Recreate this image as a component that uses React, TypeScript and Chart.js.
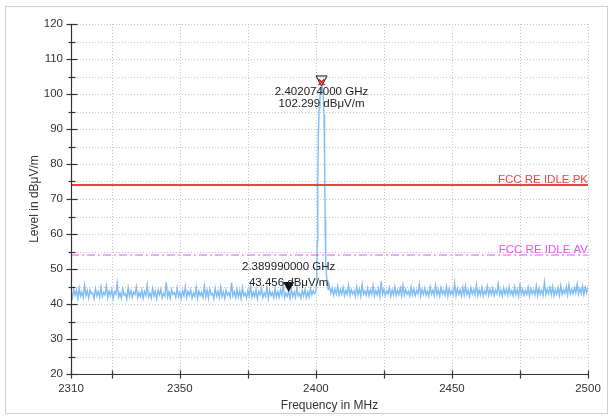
import React, { useEffect, useRef } from "react";
import { Chart, registerables } from "chart.js";

Chart.register(...registerables);

// ---- Data ----
const X_MIN = 2310;
const X_MAX = 2500;
const Y_MIN = 20;
const Y_MAX = 120;
const X_TICKS = [2310, 2325, 2350, 2375, 2400, 2425, 2450, 2475, 2500];
const X_LABELS = [2310, 2350, 2400, 2450, 2500];
const Y_STEP = 5;

const LIMIT_PK = 74;
const LIMIT_AV = 54;
const LIMIT_PK_LABEL = "FCC RE IDLE PK";
const LIMIT_AV_LABEL = "FCC RE IDLE AV";

// baseline trace left of the carrier: 2310.0 .. 2399.5 MHz, 0.5 MHz bins
const LEFT_START = 2310;
const BIN = 0.5;
const LEFT_LEVELS = [
  43.2, 41.8, 44.1, 42.5, 43.9, 41.6, 44.6, 42.2, 43.4, 41.9,
  45.3, 42.4, 43.8, 41.7, 44.0, 42.9, 43.1, 41.5, 44.4, 42.3,
  43.6, 41.9, 44.8, 42.1, 43.3, 42.6, 45.1, 41.8, 43.7, 42.4,
  44.2, 41.6, 43.5, 42.8, 46.0, 42.0, 43.2, 41.7, 44.3, 42.5,
  43.0, 41.4, 44.7, 42.2, 43.8, 41.9, 43.4, 42.7, 44.9, 41.8,
  43.3, 42.1, 44.0, 41.6, 43.6, 42.4, 45.4, 42.0, 43.1, 41.7,
  44.5, 42.3, 43.7, 41.5, 43.9, 42.6, 44.2, 41.8, 43.0, 42.2,
  46.3, 42.0, 43.5, 41.6, 44.1, 42.7, 43.2, 41.9, 44.6, 42.1,
  43.4, 41.5, 43.8, 42.3, 45.0, 41.8, 43.6, 42.5, 44.0, 41.7,
  43.1, 42.2, 44.8, 41.6, 43.7, 42.4, 43.3, 41.9, 45.2, 42.0,
  43.9, 41.7, 44.3, 42.6, 43.0, 41.5, 44.5, 42.2, 43.6, 41.8,
  44.9, 42.1, 43.4, 41.6, 44.0, 42.5, 43.2, 41.9, 46.1, 42.3,
  43.5, 41.8, 44.2, 42.0, 43.7, 41.6, 44.7, 42.4, 43.1, 41.7,
  43.8, 42.3, 45.3, 41.9, 43.4, 42.1, 44.1, 41.5, 43.6, 42.6,
  44.4, 41.8, 43.2, 42.2, 45.0, 41.6, 43.9, 42.4, 43.3, 41.7,
  44.6, 42.0, 43.5, 41.9, 44.0, 42.5, 45.6, 41.8, 43.1, 42.2,
  43.7, 41.6, 44.3, 42.1, 43.4, 41.9, 44.8, 42.3, 43.0, 41.7,
  43.9, 42.4, 44.2, 41.8, 43.5, 42.0, 44.5, 42.6, 43.8, 42.9,
];

// carrier
const PEAK_FREQS = [
  2400.0, 2400.3, 2400.5, 2400.7, 2400.9, 2401.2, 2401.5, 2401.8, 2402.07,
  2402.4, 2402.7, 2403.0, 2403.2, 2403.4, 2403.6, 2403.9, 2404.2, 2404.5, 2404.8,
];
const PEAK_LEVELS = [
  43.5, 46.5, 58, 75, 88, 96, 100, 101.8, 102.3,
  101.6, 99.5, 94, 82, 64, 52, 48, 46.5, 44.2, 45.6,
];

// baseline trace right of the carrier: 2405.0 .. 2500.0 MHz, 0.5 MHz bins
const RIGHT_START = 2405;
const RIGHT_LEVELS = [
  45.0, 43.1, 44.6, 42.5, 44.2, 42.9, 45.1, 42.6, 44.0, 42.8,
  44.7, 42.4, 43.9, 42.7, 45.3, 42.5, 44.1, 42.9, 43.8, 42.3,
  44.9, 42.6, 44.3, 42.2, 45.6, 42.8, 43.7, 42.5, 44.5, 42.4,
  44.0, 42.7, 45.2, 42.3, 43.9, 42.6, 44.4, 42.1, 46.4, 42.8,
  44.2, 42.5, 43.8, 42.9, 44.7, 42.2, 44.0, 42.6, 45.0, 42.4,
  43.9, 42.7, 44.6, 42.3, 45.4, 42.5, 44.1, 42.8, 43.7, 42.2,
  44.8, 42.6, 44.3, 42.4, 43.9, 42.9, 45.7, 42.3, 44.2, 42.7,
  44.5, 42.5, 43.8, 42.2, 44.9, 42.8, 44.0, 42.4, 45.3, 42.6,
  44.1, 42.3, 44.7, 42.9, 43.9, 42.5, 45.0, 42.2, 44.4, 42.7,
  43.8, 42.6, 46.0, 42.4, 44.3, 42.8, 44.0, 42.3, 44.8, 42.5,
  45.2, 42.7, 43.9, 42.2, 44.6, 42.9, 44.1, 42.5, 45.5, 42.4,
  44.0, 42.6, 44.7, 42.3, 43.8, 42.8, 45.1, 42.5, 44.2, 42.7,
  44.5, 42.4, 43.9, 42.9, 45.8, 42.6, 44.0, 42.3, 44.6, 42.8,
  44.3, 42.5, 45.0, 42.7, 43.8, 42.4, 44.9, 42.6, 44.1, 42.2,
  45.4, 42.8, 44.2, 42.5, 43.9, 42.7, 44.7, 42.3, 44.4, 42.9,
  44.0, 42.6, 45.2, 42.4, 44.5, 42.8, 43.9, 42.5, 46.2, 42.7,
  44.3, 42.9, 44.8, 42.6, 45.0, 42.4, 44.1, 42.8, 44.6, 42.5,
  45.3, 42.7, 44.0, 43.0, 44.9, 42.6, 45.5, 42.8, 44.2, 42.9,
  44.7, 43.1, 45.6, 42.8, 44.4, 43.0, 45.1, 42.7, 44.8, 43.2, 45.0,
];

// markers
const M1_FREQ = 2402.074;
const M1_LEVEL = 102.299;
const M1_TEXT = ["2.402074000 GHz", "102.299 dBμV/m"];
const M2_FREQ = 2389.99;
const M2_LEVEL = 43.456;
const M2_TEXT = ["2.389990000 GHz", "43.456 dBμV/m"];

const X_TITLE = "Frequency in MHz";
const Y_TITLE = "Level in dBμV/m";

// ---- Styling ----
const FONT = "'Liberation Sans', Arial, sans-serif";
const TRACE_COLOR = "rgb(128,188,245)";
const PK_COLOR = "rgb(236,68,68)";
const AV_COLOR = "rgb(240,80,240)";
const AXIS_COLOR = "#333";
const GRID_COLOR = "#c4c4c4";
const TEXT_COLOR = "#333";

function buildTrace() {
  const pts: { x: number; y: number }[] = [];
  LEFT_LEVELS.forEach((v, i) => pts.push({ x: LEFT_START + i * BIN, y: v }));
  PEAK_FREQS.forEach((f, i) => pts.push({ x: f, y: PEAK_LEVELS[i] }));
  RIGHT_LEVELS.forEach((v, i) => pts.push({ x: RIGHT_START + i * BIN, y: v }));
  return pts;
}

const decor = {
  id: "decor",
  beforeDraw(chart: any) {
    const ctx = chart.ctx;
    ctx.save();
    ctx.fillStyle = "#fff";
    ctx.fillRect(0, 0, chart.width, chart.height);
    ctx.strokeStyle = "#cfcfcf";
    ctx.lineWidth = 1;
    ctx.strokeRect(5.5, 6.5, 602, 407);
    ctx.restore();
  },
  beforeDatasetsDraw(chart: any) {
    const ctx = chart.ctx;
    const { left, right, top, bottom } = chart.chartArea;
    const xs = chart.scales.x;
    const ys = chart.scales.y;
    ctx.save();
    ctx.strokeStyle = GRID_COLOR;
    ctx.lineWidth = 1;
    ctx.setLineDash([1, 2]);
    X_TICKS.forEach((v) => {
      if (v === X_MIN) return;
      const px = Math.round(xs.getPixelForValue(v)) + 0.5;
      ctx.beginPath();
      ctx.moveTo(px, top);
      ctx.lineTo(px, bottom);
      ctx.stroke();
    });
    for (let v = Y_MIN + Y_STEP; v <= Y_MAX; v += Y_STEP) {
      const py = Math.round(ys.getPixelForValue(v)) + 0.5;
      ctx.beginPath();
      ctx.moveTo(left, py);
      ctx.lineTo(right, py);
      ctx.stroke();
    }
    ctx.restore();
  },
  afterDatasetsDraw(chart: any) {
    const ctx = chart.ctx;
    const { left, right, top, bottom } = chart.chartArea;
    const xs = chart.scales.x;
    const ys = chart.scales.y;
    ctx.save();
    // axes
    const ax = Math.round(left) + 0.5;
    const ay = Math.round(bottom) + 0.5;
    ctx.strokeStyle = AXIS_COLOR;
    ctx.lineWidth = 1.2;
    ctx.beginPath();
    ctx.moveTo(ax, top);
    ctx.lineTo(ax, ay);
    ctx.lineTo(right, ay);
    ctx.stroke();
    // cross ticks
    for (let v = Y_MIN; v <= Y_MAX; v += Y_STEP) {
      const py = Math.round(ys.getPixelForValue(v)) + 0.5;
      const major = v % 10 === 0;
      ctx.beginPath();
      ctx.moveTo(ax - (major ? 5 : 3), py);
      ctx.lineTo(ax + (major ? 6 : 4), py);
      ctx.stroke();
    }
    X_TICKS.forEach((v) => {
      const px = Math.round(xs.getPixelForValue(v)) + 0.5;
      ctx.beginPath();
      ctx.moveTo(px, ay - 4);
      ctx.lineTo(px, ay + 4);
      ctx.stroke();
    });

    // tick labels
    ctx.font = `11.5px ${FONT}`;
    ctx.fillStyle = TEXT_COLOR;
    ctx.textBaseline = "middle";
    ctx.textAlign = "center";
    X_LABELS.forEach((v) => {
      ctx.fillText(String(v), xs.getPixelForValue(v), bottom + 15);
    });
    ctx.textAlign = "right";
    for (let v = Y_MIN; v <= Y_MAX; v += 10) {
      ctx.fillText(String(v), left - 8, ys.getPixelForValue(v));
    }

    // limit labels
    ctx.textAlign = "right";
    ctx.textBaseline = "alphabetic";
    ctx.fillStyle = PK_COLOR;
    ctx.fillText(LIMIT_PK_LABEL, right, ys.getPixelForValue(LIMIT_PK) - 2);
    ctx.fillStyle = AV_COLOR;
    ctx.fillText(LIMIT_AV_LABEL, right, ys.getPixelForValue(LIMIT_AV) - 2);

    // marker 1: open triangle + red cross
    const m1x = xs.getPixelForValue(M1_FREQ);
    const m1y = ys.getPixelForValue(M1_LEVEL);
    ctx.strokeStyle = "#111";
    ctx.lineWidth = 1;
    ctx.beginPath();
    ctx.moveTo(m1x - 5.5, m1y - 10);
    ctx.lineTo(m1x + 5.5, m1y - 10);
    ctx.lineTo(m1x, m1y);
    ctx.closePath();
    ctx.stroke();
    ctx.strokeStyle = "rgb(220,30,30)";
    ctx.lineWidth = 1.5;
    ctx.beginPath();
    ctx.moveTo(m1x - 3, m1y - 7);
    ctx.lineTo(m1x + 3, m1y - 1);
    ctx.moveTo(m1x + 3, m1y - 7);
    ctx.lineTo(m1x - 3, m1y - 1);
    ctx.stroke();

    // marker 2: filled triangle
    const m2x = xs.getPixelForValue(M2_FREQ);
    const m2y = ys.getPixelForValue(M2_LEVEL);
    ctx.fillStyle = "#111";
    ctx.beginPath();
    ctx.moveTo(m2x - 5.5, m2y - 10);
    ctx.lineTo(m2x + 5.5, m2y - 10);
    ctx.lineTo(m2x, m2y);
    ctx.closePath();
    ctx.fill();

    // marker texts
    ctx.fillStyle = "#222";
    ctx.textAlign = "center";
    ctx.textBaseline = "middle";
    ctx.fillText(M1_TEXT[0], m1x, m1y + 6);
    ctx.fillText(M1_TEXT[1], m1x, m1y + 18);
    ctx.fillText(M2_TEXT[0], m2x, m2y - 25);
    ctx.fillText(M2_TEXT[1], m2x, m2y - 9);

    // axis titles
    ctx.fillStyle = TEXT_COLOR;
    ctx.font = `12px ${FONT}`;
    ctx.fillText(X_TITLE, (left + right) / 2, 406);
    ctx.translate(35, (top + bottom) / 2);
    ctx.rotate(-Math.PI / 2);
    ctx.fillText(Y_TITLE, 0, 0);
    ctx.restore();
  },
};

export default function App() {
  const ref = useRef<HTMLCanvasElement | null>(null);
  useEffect(() => {
    if (!ref.current) return;
    const chart = new Chart(ref.current, {
      type: "line",
      data: {
        datasets: [
          {
            label: LIMIT_PK_LABEL,
            data: [
              { x: X_MIN, y: LIMIT_PK },
              { x: X_MAX, y: LIMIT_PK },
            ],
            borderColor: PK_COLOR,
            borderWidth: 2,
            pointRadius: 0,
          },
          {
            label: LIMIT_AV_LABEL,
            data: [
              { x: X_MIN, y: LIMIT_AV },
              { x: X_MAX, y: LIMIT_AV },
            ],
            borderColor: AV_COLOR,
            borderWidth: 1,
            borderDash: [8, 3, 2, 3],
            pointRadius: 0,
          },
          {
            label: "Trace",
            data: buildTrace(),
            borderColor: TRACE_COLOR,
            borderWidth: 1.4,
            pointRadius: 0,
            tension: 0,
          },
        ],
      },
      options: {
        animation: false,
        responsive: false,
        events: [],
        layout: { padding: { top: 24, right: 23, left: 0, bottom: 0 } },
        plugins: { legend: { display: false }, tooltip: { enabled: false } },
        scales: {
          x: {
            type: "linear",
            min: X_MIN,
            max: X_MAX,
            afterFit: (s: any) => {
              s.height = 45;
            },
            grid: { display: false },
            border: { display: false },
            ticks: { display: false },
          },
          y: {
            type: "linear",
            min: Y_MIN,
            max: Y_MAX,
            afterFit: (s: any) => {
              s.width = 71;
            },
            grid: { display: false },
            border: { display: false },
            ticks: { display: false },
          },
        },
      },
      plugins: [decor],
    });
    return () => chart.destroy();
  }, []);
  return (
    <div style={{ position: "fixed", left: 0, top: 0, width: 611, height: 419, background: "#fff" }}>
      <canvas ref={ref} width={611} height={419} style={{ display: "block" }} />
    </div>
  );
}
